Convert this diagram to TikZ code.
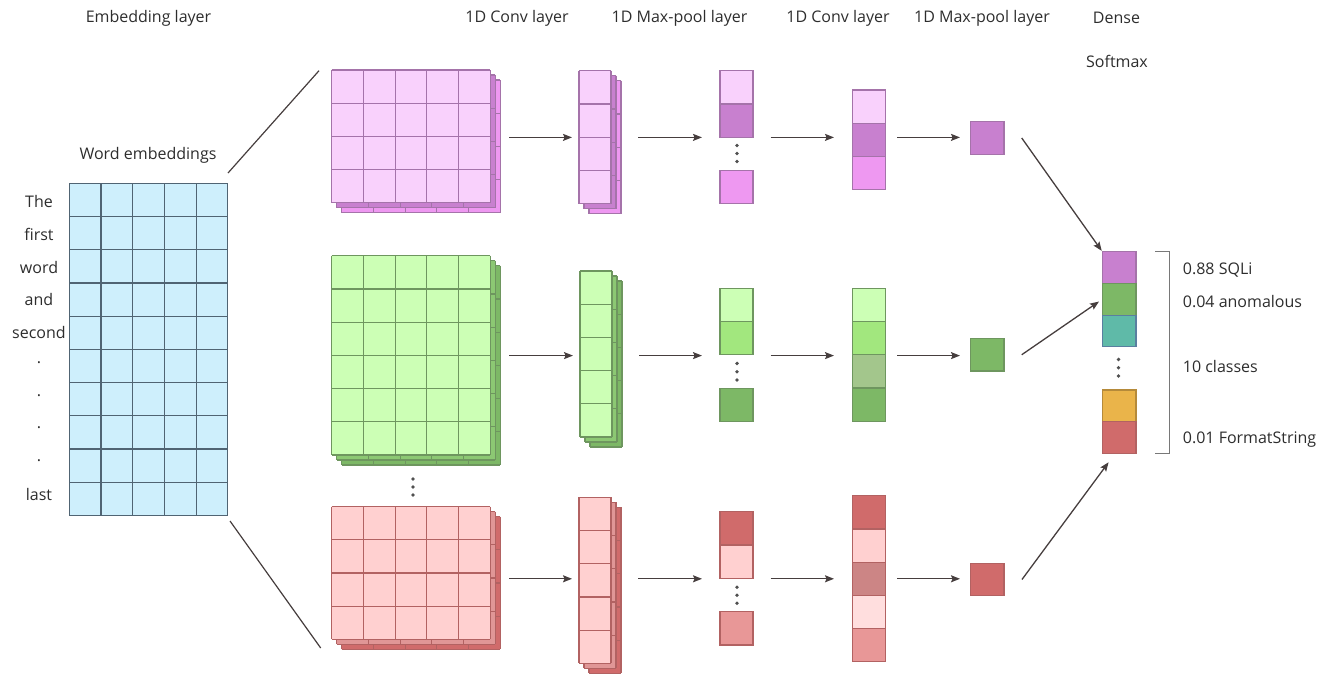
\documentclass[tikz,border=0pt]{standalone}
\usepackage{fontspec}
\setmainfont{Open Sans}
\usetikzlibrary{arrows.meta}

% palette
\definecolor{txt}{RGB}{45,45,45}
\definecolor{arrc}{RGB}{70,62,62}
\definecolor{dotc}{RGB}{80,80,80}
\definecolor{brk}{RGB}{120,120,120}
\definecolor{bfill}{RGB}{206,239,252}
\definecolor{bline}{RGB}{80,100,115}
\definecolor{plt}{RGB}{249,209,252}
\definecolor{pdk}{RGB}{200,128,207}
\definecolor{pmd}{RGB}{238,152,241}
\definecolor{pln}{RGB}{165,115,170}
\definecolor{glt}{RGB}{204,255,181}
\definecolor{gmd}{RGB}{162,231,126}
\definecolor{gdk}{RGB}{125,184,102}
\definecolor{ggr}{RGB}{163,198,140}
\definecolor{gbk}{RGB}{140,200,115}
\definecolor{gln}{RGB}{110,150,95}
\definecolor{rlt}{RGB}{255,208,208}
\definecolor{rvl}{RGB}{255,222,222}
\definecolor{rdk}{RGB}{208,107,107}
\definecolor{rmd}{RGB}{232,151,151}
\definecolor{rgr}{RGB}{204,133,133}
\definecolor{rbk}{RGB}{224,150,150}
\definecolor{rln}{RGB}{178,98,98}
\definecolor{teal}{RGB}{95,186,168}
\definecolor{tln}{RGB}{90,127,160}
\definecolor{orng}{RGB}{234,180,74}
\definecolor{oln}{RGB}{181,138,58}

% cell size of the grids
\def\cellw{31.7}
\def\cellh{33.2}

% filled grid: x, y, cols, rows, fill, stroke
\newcommand\cellgrid[6]{%
  \fill[#5] ({#1},{#2}) rectangle ++({#3*\cellw},{#4*\cellh});
  \foreach \k in {0,...,#3}
    \draw[#6,gridline] ({#1+\k*\cellw},{#2}) -- ++(0,{#4*\cellh});
  \foreach \k in {0,...,#4}
    \draw[#6,gridline] ({#1},{#2+\k*\cellh}) -- ++({#3*\cellw},0);
}

% stack of three feature maps: name, x, y, cols, rows, front, back1, back2, stroke
\newcommand\convstack[9]{%
  \cellgrid{#2+10}{#3+10}{#4}{#5}{#8}{#9}
  \cellgrid{#2+5}{#3+5}{#4}{#5}{#7}{#9}
  \cellgrid{#2}{#3}{#4}{#5}{#6}{#9}
  \node[inner sep=0pt, outer sep=0pt, minimum width={#4*\cellw+10},
        minimum height={#5*\cellh+10}, anchor=north west] (#1) at ({#2},{#3}) {};
}

% vertical ellipsis: name prefix, x, y of the middle dot, spacing
\newcommand\threedots[4]{%
  \node[dot] (#1a) at ({#2},{#3-#4}) {};
  \node[dot] (#1b) at ({#2},{#3}) {};
  \node[dot] (#1c) at ({#2},{#3+#4}) {};
}

\begin{document}
\begin{tikzpicture}[x=1pt,y=-1pt,
  lbl/.style={font=\fontsize{16}{19}\selectfont, text=txt, inner sep=0pt},
  gridline/.style={line width=1.2pt},
  cell/.style={draw, line width=1.2pt, inner sep=0pt, outer sep=0pt,
               minimum width=33pt, minimum height=33.2pt, anchor=north west},
  sq/.style={cell, minimum height=32.5pt, minimum width=33.3pt},
  ocell/.style={cell, minimum width=33.7pt, minimum height=31.7pt},
  arr/.style={draw=arrc, line width=1.3pt, -{Stealth[length=9pt,width=7pt,inset=1.5pt]}},
  edge/.style={draw=arrc, line width=1.2pt},
  dot/.style={circle, fill=dotc, inner sep=0pt, minimum size=3.8pt},
]
\useasboundingbox (0,0) rectangle (1338,673);

% ---------- headers ----------
\node[lbl] (h0) at (148.5,18) {Embedding layer};
\node[lbl] (h1) at (517,18) {1D Conv layer};
\node[lbl] (h2) at (679.5,18) {1D Max-pool layer};
\node[lbl] (h3) at (838,18) {1D Conv layer};
\node[lbl] (h4) at (982,18) {1D Max-pool layer};
\node[lbl] (h5) at (1116.5,18) {Dense};
\node[lbl] (h6) at (1117,61) {Softmax};

% ---------- embedding matrix ----------
\cellgrid{69.3}{183.3}{5}{10}{bfill}{bline}
\node[inner sep=0pt, outer sep=0pt, minimum width=158.5pt, minimum height=332pt,
      anchor=north west] (emb) at (69.3,183.3) {};
\node[lbl] (wemb) at (148,155) {Word embeddings};

\node[lbl] (w1) at (39,201) {The};
\node[lbl] (w2) at (39,234.5) {first};
\node[lbl] (w3) at (39,267) {word};
\node[lbl] (w4) at (39,299.5) {and};
\node[lbl] (w5) at (39,332) {second};
\node[lbl] (w6) at (39,363) {.};
\node[lbl] (w7) at (39,396) {.};
\node[lbl] (w8) at (39,428) {.};
\node[lbl] (w9) at (39,461) {.};
\node[lbl] (w10) at (39,494) {last};

% ---------- first convolution: three filter groups ----------
\convstack{pbig}{331.7}{70}{5}{4}{plt}{pdk}{pmd}{pln}
\convstack{gbig}{331.7}{255.7}{5}{6}{glt}{gbk}{gdk}{gln}
\convstack{rbig}{331.7}{506.5}{5}{4}{rlt}{rbk}{rdk}{rln}
\threedots{bd}{413}{487}{8}

% projection lines from the embedding matrix
\coordinate (et) at (228,173);
\coordinate (pt) at (319,70.7);
\coordinate (eb) at (230,521);
\coordinate (rb) at (320.7,648);
\draw[edge] (et) -- (pt);
\draw[edge] (eb) -- (rb);

% ---------- convolution outputs ----------
\def\cellw{32}
\convstack{psm}{579}{70.7}{1}{4}{plt}{pdk}{pmd}{pln}
\convstack{gsm}{580}{271}{1}{5}{glt}{gbk}{gdk}{gln}
\convstack{rsm}{579}{497.3}{1}{5}{rlt}{rbk}{rdk}{rln}

% ---------- max-pool outputs ----------
\node[cell, fill=plt, draw=pln] (p3a) at (720,70.7) {};
\node[cell, fill=pdk, draw=pln] (p3b) at (720,103.9) {};
\node[cell, fill=pmd, draw=pln] (p3c) at (720,170.2) {};
\threedots{pd}{737}{153.5}{8}

\node[cell, fill=glt, draw=gln] (g3a) at (720,288.3) {};
\node[cell, fill=gmd, draw=gln] (g3b) at (720,321.5) {};
\node[cell, fill=gdk, draw=gln] (g3c) at (720,388.4) {};
\threedots{gd}{737}{371.7}{8.3}

\node[cell, fill=rdk, draw=rln] (r3a) at (720,511.7) {};
\node[cell, fill=rlt, draw=rln] (r3b) at (720,544.9) {};
\node[cell, fill=rmd, draw=rln] (r3c) at (720,611.7) {};
\threedots{rd}{737}{595.3}{8}

% ---------- second convolution ----------
\node[cell, fill=plt, draw=pln] (p4a) at (852.7,90) {};
\node[cell, fill=pdk, draw=pln] (p4b) at (852.7,123.2) {};
\node[cell, fill=pmd, draw=pln] (p4c) at (852.7,156.4) {};

\node[cell, fill=glt, draw=gln] (g4a) at (852.7,288.3) {};
\node[cell, fill=gmd, draw=gln] (g4b) at (852.7,321.5) {};
\node[cell, fill=ggr, draw=gln] (g4c) at (852.7,354.7) {};
\node[cell, fill=gdk, draw=gln] (g4d) at (852.7,387.9) {};

\node[cell, fill=rdk, draw=rln] (r4a) at (852.7,495.7) {};
\node[cell, fill=rlt, draw=rln] (r4b) at (852.7,528.9) {};
\node[cell, fill=rgr, draw=rln] (r4c) at (852.7,562.1) {};
\node[cell, fill=rvl, draw=rln] (r4d) at (852.7,595.3) {};
\node[cell, fill=rmd, draw=rln] (r4e) at (852.7,628.5) {};

% ---------- second max-pool ----------
\node[sq, fill=pdk, draw=pln] (p5) at (970.7,121.7) {};
\node[sq, fill=gdk, draw=gln] (g5) at (970.7,338.5) {};
\node[sq, fill=rdk, draw=rln] (r5) at (970.7,563.2) {};

% ---------- dense / softmax output ----------
\node[ocell, fill=pdk, draw=pln] (o1) at (1102.3,251.7) {};
\node[ocell, fill=gdk, draw=gln] (o2) at (1102.3,283.4) {};
\node[ocell, fill=teal, draw=tln] (o3) at (1102.3,315.1) {};
\threedots{od}{1118.5}{367.7}{8.3}
\node[ocell, fill=orng, draw=oln] (o4) at (1102.3,390) {};
\node[ocell, fill=rdk, draw=rln] (o5) at (1102.3,421.7) {};

\draw[brk, line width=1.3pt] ([xshift=19pt]o1.north east) -- ++(14.3,0)
      |- ([xshift=19pt]o5.south east);

\node[lbl, anchor=west] (c1) at (1182.7,270) {0.88 SQLi};
\node[lbl, anchor=west] (c2) at (1182.7,301.7) {0.04 anomalous};
\node[lbl, anchor=west] (c3) at (1182.7,366.7) {10 classes};
\node[lbl, anchor=west] (c4) at (1182.7,440) {0.01 FormatString};

% ---------- arrows along each branch ----------
\coordinate (rowP) at (0,137.4);
\coordinate (rowG) at (0,355.6);
\coordinate (rowR) at (0,578.8);

\foreach \b/\s/\m/\c/\f/\row in {pbig/psm/p3b/p4b/p5/rowP, gbig/gsm/g3b/g4c/g5/rowG, rbig/rsm/r3b/r4c/r5/rowR}{
  \draw[arr, shorten <=9pt, shorten >=7pt] (\b.east |- \row) -- (\s.west |- \row);
  \draw[arr, shorten <=17pt, shorten >=18pt] (\s.east |- \row) -- (\m.west |- \row);
  \draw[arr, shorten <=17.7pt, shorten >=18.7pt] (\m.east |- \row) -- (\c.west |- \row);
  \draw[arr, shorten <=11.6pt, shorten >=10.7pt] (\c.east |- \row) -- (\f.west |- \row);
}

\draw[arr, shorten >=1pt] ([xshift=17.7pt]p5.east) -- (o1.north west);
\draw[arr, shorten >=4pt] ([xshift=17.7pt]g5.east) -- (o2.west);
\draw[arr, shorten >=11pt] ([xshift=18pt]r5.east) -- ([xshift=-4pt]o5.south);

\end{tikzpicture}
\end{document}
